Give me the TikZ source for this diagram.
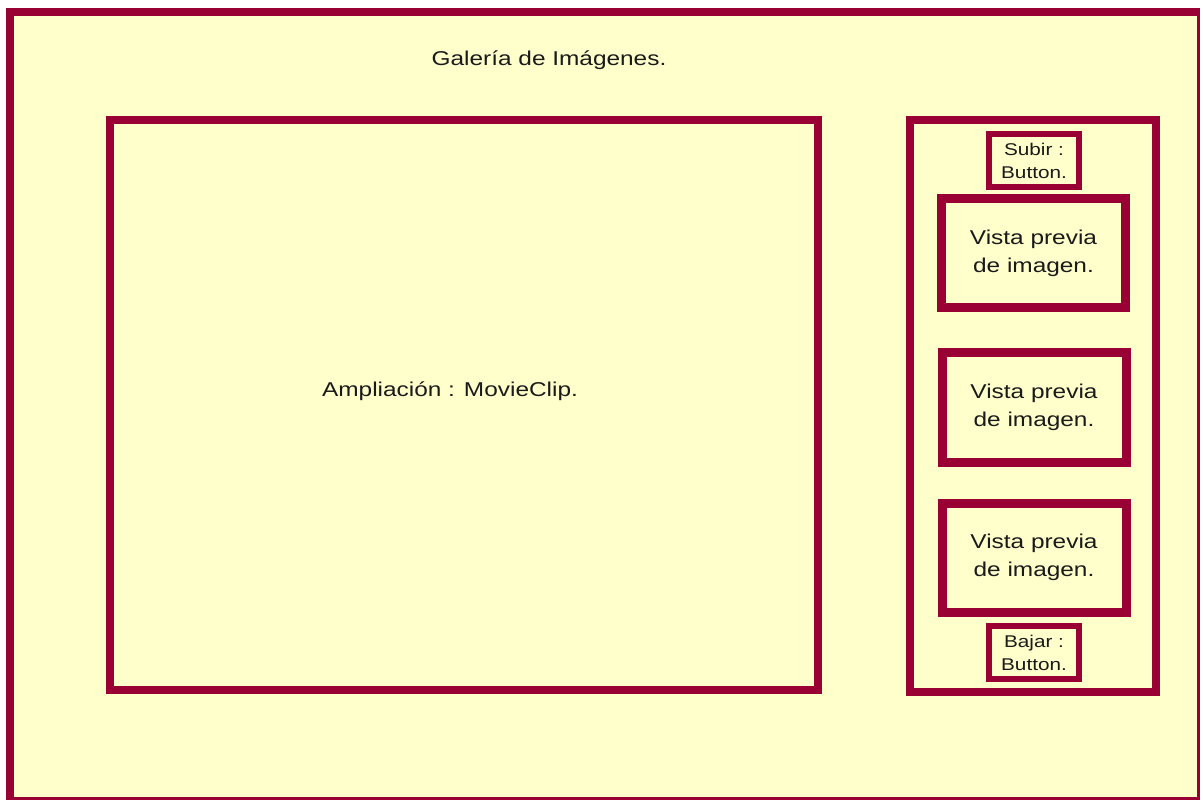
\documentclass[tikz,border=0pt]{standalone}
\usepackage{fontspec}
\newfontfamily\uifont[FakeStretch=1.22]{Liberation Sans}
\definecolor{frame}{HTML}{990033}
\definecolor{paper}{HTML}{FFFFCC}
\definecolor{ink}{HTML}{1A1A1A}
\tikzset{
  box/.style={draw=frame, rectangle, inner sep=0pt, outer sep=0pt, text=ink, align=center},
  bigbox/.style={box, line width=8pt},
  viewbox/.style={box, line width=9pt, minimum width=184pt, minimum height=109pt, font=\uifont\fontsize{20}{28}\selectfont},
  btnbox/.style={box, line width=6pt, minimum width=90pt, minimum height=53pt, font=\uifont\fontsize{17}{23}\selectfont},
  lbl/.style={text=ink, inner sep=0pt, font=\uifont\fontsize{20}{28}\selectfont}
}
\begin{document}
\begin{tikzpicture}[x=1pt, y=-1pt]
\useasboundingbox (0,0) rectangle (1203,802);
\fill[white] (0,0) rectangle (1203,802);
\fill[frame] (6,8) rectangle (1200,800);
\fill[paper] (14,16) rectangle (1197,797);
\node[lbl] (title) at (549,60) {Galería de Imágenes.};
\node[bigbox, minimum width=708pt, minimum height=570pt] (main) at (464,405) {};
\node[lbl] (mainlbl) at (450,391) {Ampliación : MovieClip.};
\node[bigbox, minimum width=246pt, minimum height=572pt] (side) at (1033,406) {};
\node[btnbox] (up) at (1034,160.5) {Subir :\\Button.};
\node[viewbox] (v1) at (1033.5,253) {Vista previa\\de imagen.};
\node[viewbox] (v2) at (1034,407.5) {Vista previa\\de imagen.};
\node[viewbox] (v3) at (1034,557.5) {Vista previa\\de imagen.};
\node[btnbox] (down) at (1034,652.5) {Bajar :\\Button.};
\end{tikzpicture}
\end{document}
